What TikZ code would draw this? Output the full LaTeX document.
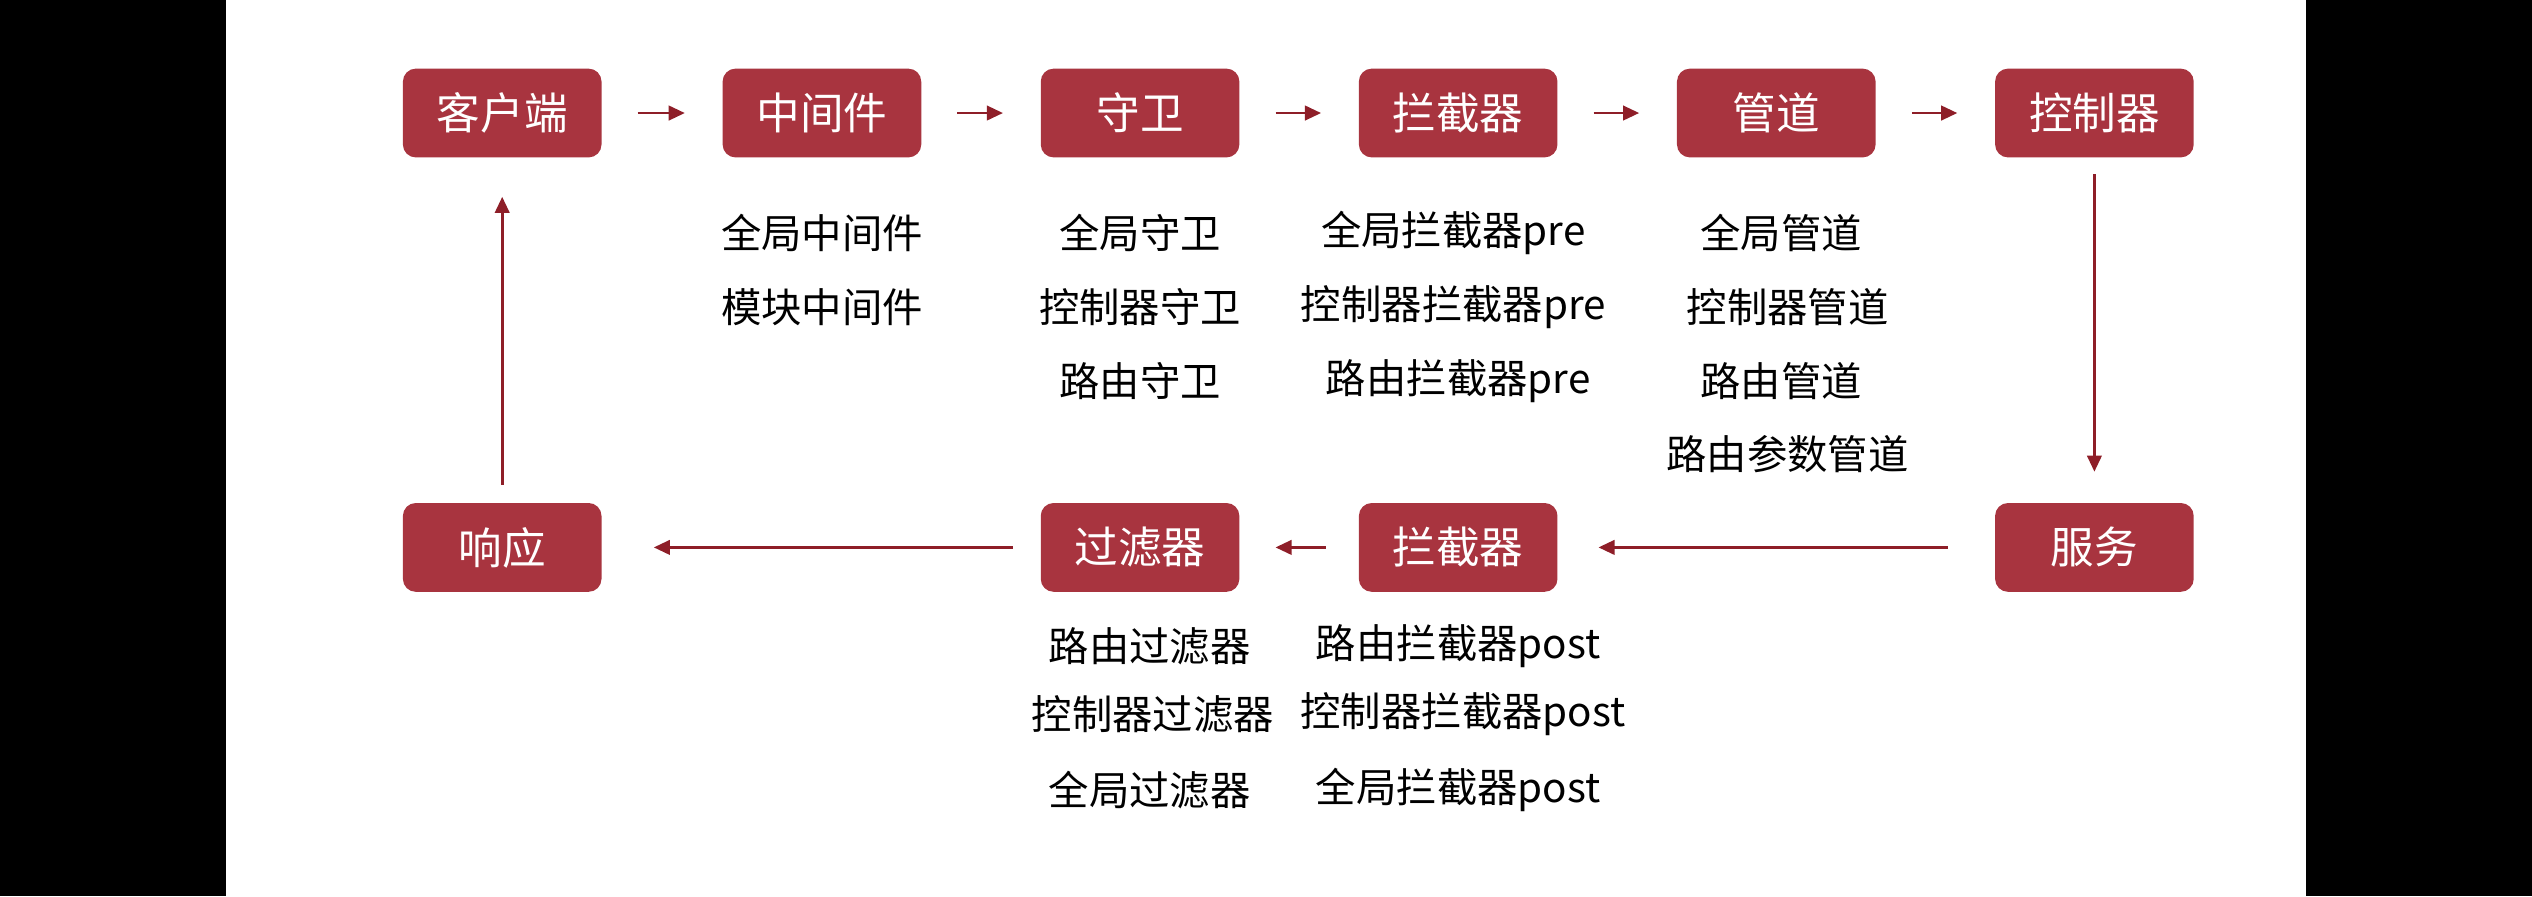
\documentclass[tikz,border=0pt]{standalone}
\usepackage{fontspec}
\setmainfont{Noto Sans CJK SC}
\usetikzlibrary{arrows.meta}
\definecolor{boxred}{HTML}{A8343F}
\definecolor{arrred}{HTML}{8E1E28}
\begin{document}
\begin{tikzpicture}[x=0.5pt,y=-0.5pt,
  stagebox/.style={fill=boxred,rounded corners=4pt,minimum width=61.5pt,minimum height=27.5pt,text=white,font=\fontsize{13.5}{15}\selectfont,inner sep=0pt},
  lbl/.style={font=\fontsize{12.5}{14}\selectfont,inner sep=0pt,align=center},
  flow/.style={draw=arrred,line width=0.8pt,-{Triangle[length=5pt,width=4.5pt]}}]
\useasboundingbox (0,0) rectangle (1568,555);
\fill[black] (0,0) rectangle (140,555);
\fill[black] (1428,0) rectangle (1568,555);
\node[stagebox] (c) at (311,70) {客户端};
\node[stagebox] (m) at (509,70) {中间件};
\node[stagebox] (g) at (706,70) {守卫};
\node[stagebox] (i) at (903,70) {拦截器};
\node[stagebox] (p) at (1100,70) {管道};
\node[stagebox] (k) at (1297,70) {控制器};
\node[stagebox] (r) at (311,339) {响应};
\node[stagebox] (f) at (706,339) {过滤器};
\node[stagebox] (i2) at (903,339) {拦截器};
\node[stagebox] (s) at (1297,339) {服务};
\draw[flow] ([xshift=11pt]c.east) -- ([xshift=-11.5pt]m.west);
\draw[flow] ([xshift=11pt]m.east) -- ([xshift=-11.5pt]g.west);
\draw[flow] ([xshift=11pt]g.east) -- ([xshift=-11.5pt]i.west);
\draw[flow] ([xshift=11pt]i.east) -- ([xshift=-11.5pt]p.west);
\draw[flow] ([xshift=11pt]p.east) -- ([xshift=-11.5pt]k.west);
\draw[flow] ([yshift=-5pt]k.south) -- ([yshift=9.5pt]s.north);
\draw[flow] ([xshift=-14.5pt]s.west) -- ([xshift=12.5pt]i2.east);
\draw[flow] ([xshift=-10pt]i2.west) -- ([xshift=11pt]f.east);
\draw[flow] ([xshift=-8.5pt]f.west) -- ([xshift=16pt]r.east);
\draw[flow] ([yshift=5.5pt]r.north) -- ([yshift=-12pt]c.south);
\node[lbl] (m1) at (509,144) {全局中间件};
\node[lbl] (m2) at (509,190) {模块中间件};
\node[lbl] (g1) at (706,144) {全局守卫};
\node[lbl] (g2) at (706,190) {控制器守卫};
\node[lbl] (g3) at (706,236) {路由守卫};
\node[lbl] (i1) at (900,144) {全局拦截器pre};
\node[lbl] (i2a) at (900,190) {控制器拦截器pre};
\node[lbl] (i3) at (903,236) {路由拦截器pre};
\node[lbl] (p1) at (1103,144) {全局管道};
\node[lbl] (p2) at (1107,190) {控制器管道};
\node[lbl] (p3) at (1103,236) {路由管道};
\node[lbl] (p4) at (1107,281) {路由参数管道};
\node[lbl] (f1) at (712,400) {路由过滤器};
\node[lbl] (f2) at (714,442) {控制器过滤器};
\node[lbl] (f3) at (712,489) {全局过滤器};
\node[lbl] (j1) at (903,400) {路由拦截器post};
\node[lbl] (j2) at (906,442) {控制器拦截器post};
\node[lbl] (j3) at (903,489) {全局拦截器post};
\end{tikzpicture}
\end{document}
